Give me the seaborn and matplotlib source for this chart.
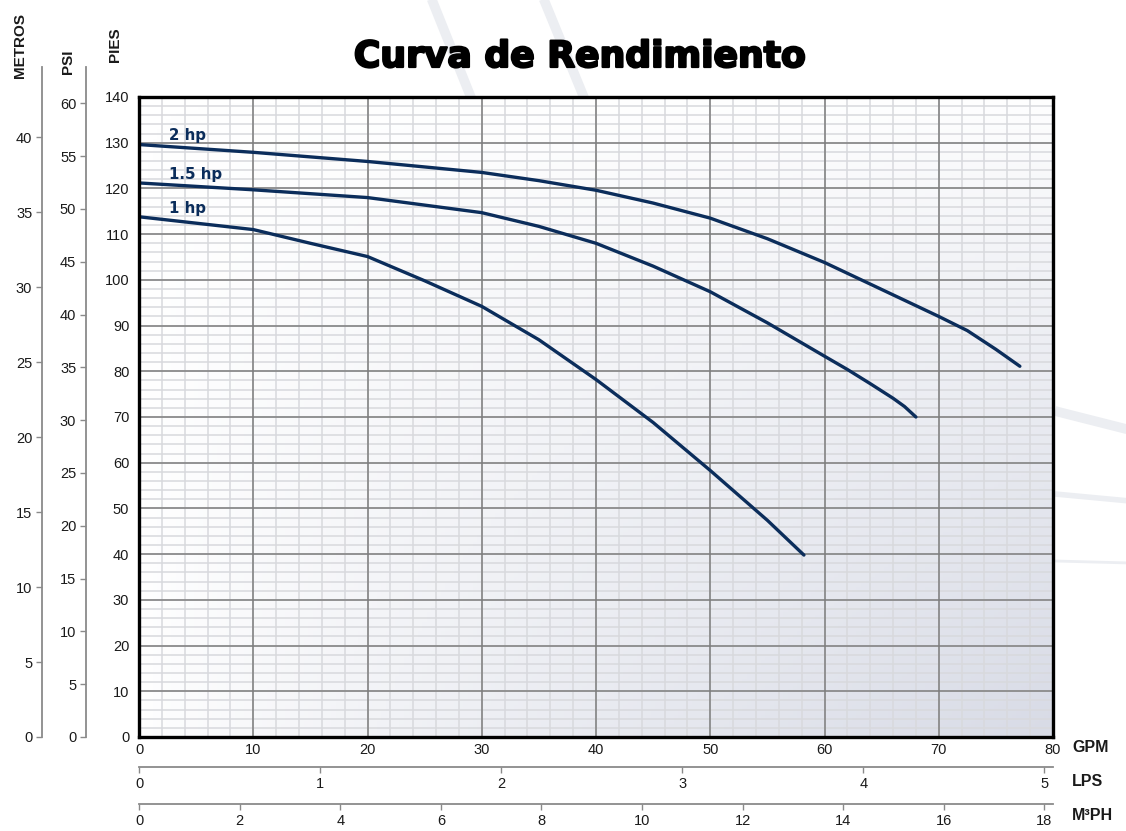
import numpy as np
import pandas as pd
import matplotlib
matplotlib.use("Agg")
import matplotlib.pyplot as plt
import matplotlib.patheffects as pe
import seaborn as sns
from matplotlib.colors import LinearSegmentedColormap
from matplotlib.lines import Line2D

# curve data (GPM vs head in feet)
gpm_2hp = [0, 10, 20, 30, 35, 40, 45, 50, 55, 60, 65, 70, 72.5, 75, 77.1]
ft_2hp = [129.6, 127.9, 125.9, 123.5, 121.7, 119.6, 116.8, 113.5, 109.0, 103.8, 97.9, 92.0, 88.9, 84.8, 81.1]

gpm_15hp = [0, 10, 20, 30, 35, 40, 45, 50, 55, 60, 62, 64, 66, 67, 68]
ft_15hp = [121.2, 119.7, 118.0, 114.7, 111.7, 108.0, 103.0, 97.4, 90.6, 83.3, 80.4, 77.3, 74.1, 72.3, 70.0]

gpm_1hp = [0, 10, 15, 20, 25, 30, 35, 40, 45, 50, 55, 58.2]
ft_1hp = [113.8, 111.0, 108.0, 105.1, 99.8, 94.2, 86.9, 78.2, 68.8, 58.3, 47.4, 39.8]

curve_names = ["2 hp", "1.5 hp", "1 hp"]
label_pos = [(2.6, 131.6), (2.6, 123.0), (2.6, 115.6)]

# axis ranges / ticks
gpm_ticks = list(range(0, 81, 10))
pies_ticks = list(range(0, 141, 10))
psi_ticks = list(range(0, 61, 5))
metros_ticks = list(range(0, 41, 5))
lps_ticks = [0, 1, 2, 3, 4, 5]
m3ph_ticks = list(range(0, 19, 2))

FT_PER_PSI = 2.31
FT_PER_M = 3.281
LPS_PER_GPM = 0.0630902
M3PH_PER_GPM = 0.227125

NAVY = "#0b2d5b"
TXT = "#1a1a1a"
SPINE = "#8a8a8a"

sns.set_theme(style="white")
plt.rcParams["font.family"] = ["Liberation Sans", "DejaVu Sans"]

W, H = 1126, 831
fig = plt.figure(figsize=(W / 100, H / 100), dpi=100)
fig.patch.set_facecolor("white")


def box(l, t, r, b):
    return [l / W, 1 - b / H, (r - l) / W, (b - t) / H]


# faint decorative swooshes in the background
for (x0, y0, x1, y1, lw) in [(430, -5, 472, 100, 7), (542, -5, 585, 100, 7),
                             (1055, 411, 1130, 430, 7), (1055, 494, 1130, 501, 4),
                             (1055, 561, 1130, 563, 2)]:
    fig.add_artist(Line2D([x0 / W, x1 / W], [1 - y0 / H, 1 - y1 / H], color="#eceef2",
                          lw=lw, solid_capstyle="butt", zorder=0))

# main chart
ax = fig.add_axes(box(139, 97, 1053, 737))
ax.set_xlim(0, 80)
ax.set_ylim(0, 140)

xx, yy = np.meshgrid(np.linspace(0, 1, 200), np.linspace(0, 1, 200))
grad = (xx * yy) ** 0.8
cmap = LinearSegmentedColormap.from_list("bg", ["#ffffff", "#d8dbe6"])
ax.imshow(grad, extent=(0, 80, 0, 140), origin="upper", aspect="auto", cmap=cmap, zorder=0)

# minor grid drawn by hand so the major grid stays on top of it
ax.vlines(np.arange(2, 80, 2), 0, 140, color="#d8d9dd", lw=1.1, zorder=0.3)
ax.hlines(np.arange(2, 140, 2), 0, 80, color="#d8d9dd", lw=1.1, zorder=0.3)
ax.set_xticks(gpm_ticks)
ax.set_yticks(pies_ticks)
ax.grid(which="major", color="#7d7d7d", lw=1.1)
ax.set_axisbelow(True)
ax.tick_params(which="both", length=0)
ax.tick_params(axis="y", pad=7, labelsize=10.5, labelcolor=TXT)
ax.tick_params(axis="x", pad=4, labelsize=10.5, labelcolor=TXT)
for s in ax.spines.values():
    s.set_visible(True)
    s.set_color("black")
    s.set_linewidth(2.4)
    s.set_zorder(5)

df = pd.concat([
    pd.DataFrame({"gpm": gpm_2hp, "ft": ft_2hp, "motor": curve_names[0]}),
    pd.DataFrame({"gpm": gpm_15hp, "ft": ft_15hp, "motor": curve_names[1]}),
    pd.DataFrame({"gpm": gpm_1hp, "ft": ft_1hp, "motor": curve_names[2]}),
])
sns.lineplot(data=df, x="gpm", y="ft", hue="motor", palette=[NAVY] * 3, sort=False,
             estimator=None, lw=2.4, legend=False, ax=ax, zorder=3)
ax.set_xlabel("")
ax.set_ylabel("")
for name, (lx, ly) in zip(curve_names, label_pos):
    ax.text(lx, ly, name, color=NAVY, fontsize=10.8, fontweight="bold",
            family=["DejaVu Sans"], ha="left", va="center", zorder=4)

# top of the side scales in feet
ft_top = 140 * (737 - 67) / (737 - 97)


def side_scale(left_px, factor, ticks):
    a = fig.add_axes(box(left_px, 67, left_px + 1, 737))
    a.set_facecolor("none")
    a.set_ylim(0, ft_top / factor)
    a.set_xticks([])
    a.set_yticks(ticks)
    for k in ["top", "right", "bottom"]:
        a.spines[k].set_visible(False)
    a.spines["left"].set_color(SPINE)
    a.spines["left"].set_linewidth(1.3)
    a.tick_params(axis="y", length=4, width=1, color=SPINE, pad=3,
                  labelsize=10.5, labelcolor=TXT, left=True)
    return a


side_scale(86, FT_PER_PSI, psi_ticks)
side_scale(42, FT_PER_M, metros_ticks)


def bottom_scale(y_px, factor, ticks):
    a = fig.add_axes(box(139, y_px - 1, 1053, y_px))
    a.set_facecolor("none")
    a.set_xlim(0, 80 * factor)
    a.set_yticks([])
    a.set_xticks(ticks)
    for k in ["top", "right", "left"]:
        a.spines[k].set_visible(False)
    a.spines["bottom"].set_color(SPINE)
    a.spines["bottom"].set_linewidth(1.3)
    a.tick_params(axis="x", length=4, width=1, color=SPINE, pad=3,
                  labelsize=10.5, labelcolor=TXT, bottom=True)
    return a


bottom_scale(767, LPS_PER_GPM, lps_ticks)
bottom_scale(804, M3PH_PER_GPM, m3ph_ticks)

# unit labels
for txt, xp, yp in [("METROS", 20, 45), ("PSI", 68, 62), ("PIES", 115, 45)]:
    fig.text(xp / W, 1 - yp / H, txt, rotation=90, ha="center", va="center",
             fontsize=11, fontweight="bold", color=TXT)
for txt, yp in [("GPM", 748), ("LPS", 781), ("M³PH", 815)]:
    fig.text(1072 / W, 1 - yp / H, txt, ha="left", va="center",
             fontsize=11.5, fontweight="bold", color=TXT)

fig.text(580 / W, 1 - 57 / H, "Curva de Rendimiento", ha="center", va="center",
         fontsize=26, fontweight="bold", family=["DejaVu Sans"], color="black",
         path_effects=[pe.withStroke(linewidth=1.6, foreground="black")])

fig.savefig("out.png", dpi=100)
